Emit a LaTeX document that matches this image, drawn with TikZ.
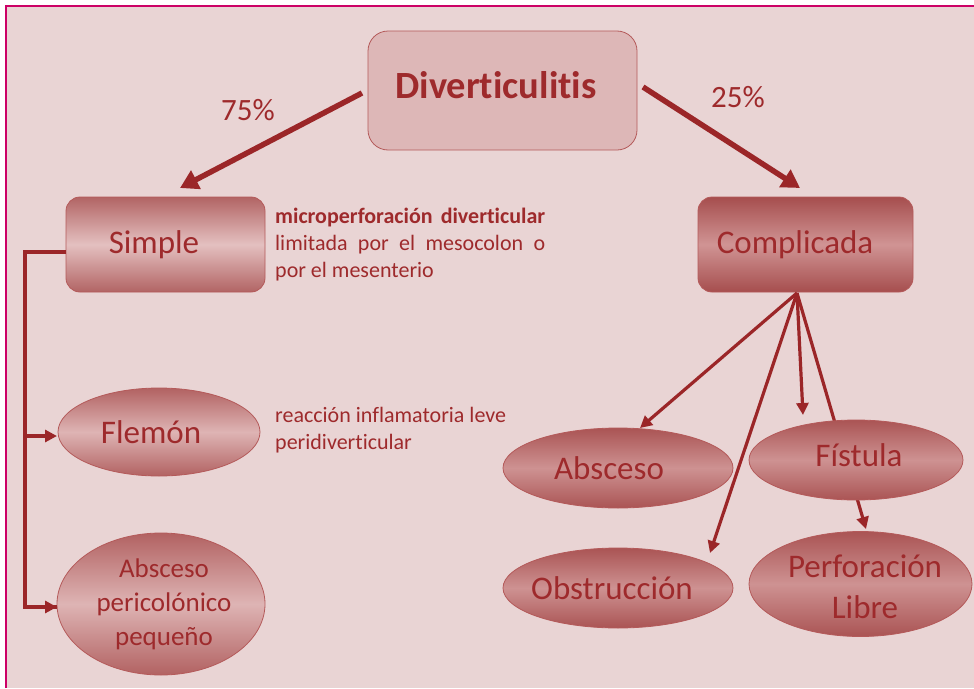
\documentclass[tikz,border=0pt]{standalone}
\usepackage{fontspec}
\setmainfont{Carlito}[Ligatures=NoCommon]
\usetikzlibrary{arrows.meta,shapes.geometric}
\definecolor{bgc}{RGB}{233,212,212}
\definecolor{frame}{RGB}{204,0,102}
\definecolor{tred}{RGB}{158,42,44}
\definecolor{ared}{RGB}{155,38,40}
\definecolor{bord}{RGB}{180,90,90}
\definecolor{dtop}{RGB}{221,183,183}
\definecolor{sdark}{RGB}{178,100,100}
\definecolor{slight}{RGB}{228,192,192}
\definecolor{cdark}{RGB}{166,78,78}
\definecolor{clight}{RGB}{208,148,148}
\definecolor{edark}{RGB}{178,98,98}
\definecolor{elight}{RGB}{222,180,180}
\definecolor{fdark}{RGB}{170,84,84}
\definecolor{flight}{RGB}{206,146,146}
\newcommand\mysx[2]{\makebox[0pt]{\hspace*{#1}#2\hspace*{-#1}}}
\pgfdeclarelayer{back}
\pgfdeclarelayer{bg}
\pgfsetlayers{back,bg,main}
\tikzset{
  hbox/.style={draw=bord, line width=0.8pt, rounded corners=14pt, text=tred,
    inner sep=0pt, font=\fontsize{33}{40}\selectfont},
  simplebox/.style={hbox, top color=sdark, bottom color=sdark, middle color=slight},
  compbox/.style={hbox, top color=cdark, bottom color=cdark, middle color=clight},
  ell/.style={ellipse, draw=bord, line width=0.8pt, text=tred, inner sep=0pt,
    align=center, top color=edark, bottom color=edark, middle color=elight,
    font=\fontsize{33}{41}\selectfont},
  ellb/.style={ell, top color=fdark, bottom color=fdark, middle color=flight},
  bigarrow/.style={draw=ared, line width=5.5pt, -{Triangle[length=18pt,width=20pt]}},
  thinarrow/.style={draw=ared, line width=3.2pt, -{Triangle[length=12pt,width=12pt]}},
  conn/.style={draw=ared, line width=3.2pt},
  body/.style={text=tred, inner sep=0pt, anchor=base west, font=\fontsize{22}{27}\selectfont},
  pct/.style={text=tred, inner sep=0pt, font=\fontsize{31}{36}\selectfont},
}
\begin{document}
\begin{tikzpicture}[x=1pt,y=-1pt]
\useasboundingbox (0,0) rectangle (974,688);
\begin{pgfonlayer}{back}
  \fill[white] (0,0) rectangle (974,688);
  \fill[bgc] (6,6) rectangle (974,688);
  \draw[frame, line width=2pt] (6,688) -- (6,6) -- (974,6);
\end{pgfonlayer}

% nodes
\node[draw=bord, line width=0.8pt, rounded corners=20pt, fill=dtop, text=tred,
      minimum width=269pt, minimum height=119pt, inner sep=0pt,
      font=\bfseries\fontsize{38.5}{44}\selectfont] (div) at (502.5,90.5)
      {\raisebox{5pt}[\height][\depth]{\mysx{-6.5pt}{Diverticulitis}}};
\node[simplebox, minimum width=199pt, minimum height=95pt] (simple) at (165.5,244.5) {\mysx{-11.5pt}{Simple}};
\node[compbox, minimum width=215pt, minimum height=95pt] (comp) at (805.5,244.5) {\mysx{-10.5pt}{Complicada}};

\node[ell, minimum width=202pt, minimum height=88pt] (flemon) at (159,432) {\mysx{-8pt}{Flemón}};
\node[ell, minimum width=208pt, minimum height=142pt, font=\fontsize{27}{34}\selectfont]
      (abp) at (161,604) {\mysx{3pt}{Absceso}\\\mysx{3pt}{pericolónico}\\\mysx{3pt}{pequeño}};
\node[ellb, minimum width=230pt, minimum height=80pt] (absc) at (618,468) {\mysx{-9pt}{Absceso}};
\node[ellb, minimum width=230pt, minimum height=80pt] (obs) at (618,588) {\mysx{-6pt}{Obstrucción}};
\node[ellb, minimum width=214pt, minimum height=80pt] (fist) at (856,460)
      {\raisebox{5pt}[\height][\depth]{\mysx{3pt}{Fístula}}};
\node[ellb, minimum width=223pt, minimum height=105pt] (perf) at (860.5,584)
      {\raisebox{-3pt}[\height][\depth]{\mysx{4.5pt}{Perforación}}\\\raisebox{-3pt}[\height][\depth]{\mysx{4.5pt}{Libre}}};

% texts
\node[pct] (p75) at (248,110) {75\%};
\node[pct] (p25) at (738,97) {25\%};
\node[body] (t1) at (275,223) {\makebox[270pt][s]{\bfseries microperforación diverticular}};
\node[body] (t2) at (275,250) {\makebox[270pt][s]{limitada por el mesocolon o}};
\node[body] (t3) at (275,277) {por el mesenterio};
\node[body] (t4) at (275,422) {reacción inflamatoria leve};
\node[body] (t5) at (275,449) {peridiverticular};

% connector coordinates
\coordinate (d1) at (362,93);
\coordinate (s1) at (180,188);
\coordinate (d2) at (643,87);
\coordinate (c1) at (800,188);
\coordinate (cs) at (797,293);
\coordinate (absT) at (640,428);
\coordinate (obsT) at (710,553);
\coordinate (fisT) at (803,415);
\coordinate (perfT) at (866,529);
\coordinate (sl) at (66,252);
\coordinate (corner) at (25,252);
\coordinate (fork) at (25,436);
\coordinate (flW) at (57,436);
\coordinate (abpW) at (57,607);

\draw[bigarrow] (d1) -- (s1);
\draw[bigarrow] (d2) -- (c1);
\draw[thinarrow] (cs) -- (absT);
\draw[thinarrow] (cs) -- (obsT);
\draw[thinarrow] (cs) -- (fisT);
\begin{pgfonlayer}{bg}
\draw[thinarrow] (cs) -- (perfT);
\end{pgfonlayer}
\draw[conn] (sl) -- (corner) |- (abpW);
\draw[thinarrow] (corner |- abpW) -- (abpW);
\draw[thinarrow] (fork) -- (flW);
\end{tikzpicture}
\end{document}
